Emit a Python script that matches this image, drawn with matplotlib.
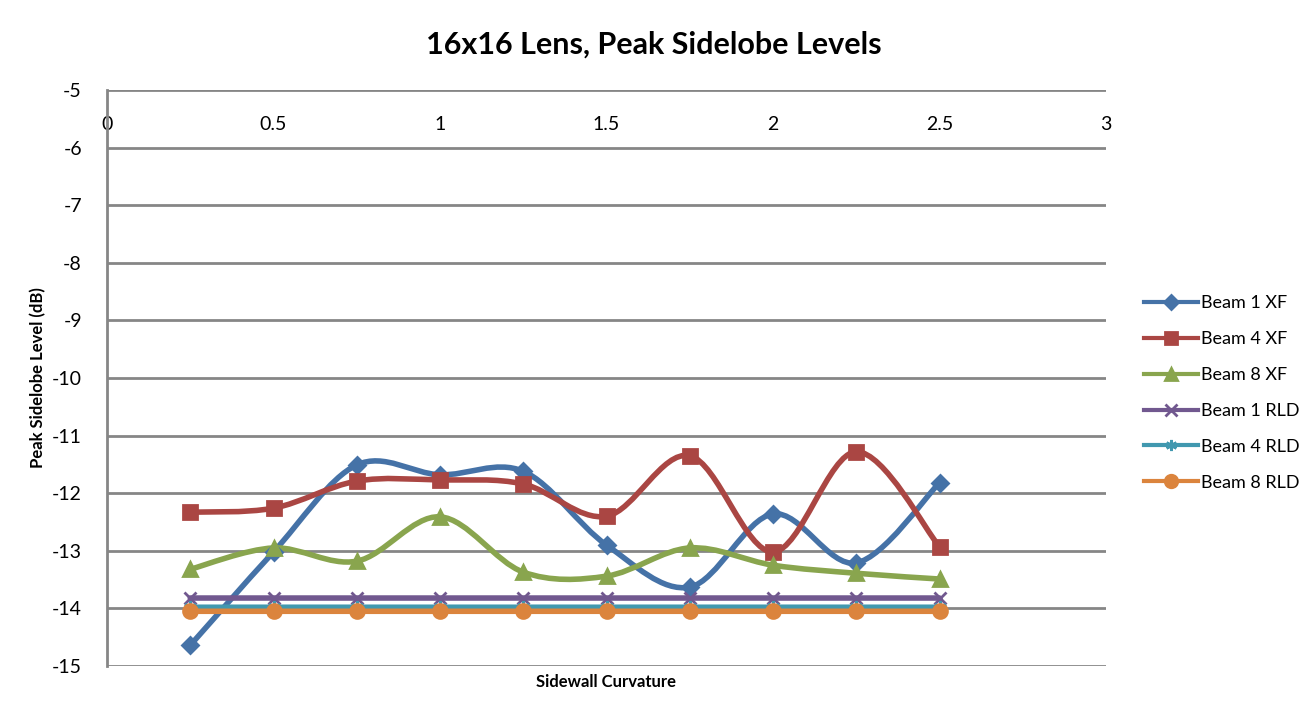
import numpy as np
import matplotlib
matplotlib.use("Agg")
import matplotlib.pyplot as plt
from matplotlib.path import Path
from matplotlib.patches import PathPatch
from matplotlib.lines import Line2D

plt.rcParams['font.family'] = ['Lato', 'DejaVu Sans']
plt.rcParams['axes.unicode_minus'] = False

curvature = [0.25, 0.5, 0.75, 1.0, 1.25, 1.5, 1.75, 2.0, 2.25, 2.5]
beam1_xf = [-14.64, -13.02, -11.51, -11.68, -11.62, -12.90, -13.63, -12.36, -13.21, -11.82]
beam4_xf = [-12.33, -12.26, -11.79, -11.77, -11.84, -12.40, -11.35, -13.02, -11.28, -12.93]
beam8_xf = [-13.32, -12.95, -13.18, -12.41, -13.37, -13.44, -12.95, -13.25, -13.39, -13.49]
beam1_rld = [-13.82] * 10
beam4_rld = [-13.98] * 10
beam8_rld = [-14.05] * 10

series = [
    ("Beam 1 XF", beam1_xf, "#4572A7", "D", 8),
    ("Beam 4 XF", beam4_xf, "#AA4643", "s", 10),
    ("Beam 8 XF", beam8_xf, "#89A54E", "^", 10),
    ("Beam 1 RLD", beam1_rld, "#71588F", "x", 9),
    ("Beam 4 RLD", beam4_rld, "#4198AF", (6, 2, 0), 9),
    ("Beam 8 RLD", beam8_rld, "#DB843D", "o", 10),
]


def smooth_path(xs, ys):
    # excel style smoothing: bezier segments with catmull-rom control points
    pts = np.column_stack([xs, ys])
    n = len(pts)
    verts = [pts[0]]
    codes = [Path.MOVETO]
    for i in range(n - 1):
        p0 = pts[i - 1] if i > 0 else pts[i]
        p1 = pts[i]
        p2 = pts[i + 1]
        p3 = pts[i + 2] if i + 2 < n else pts[i + 1]
        c1 = p1 + (p2 - p0) / 6.0
        c2 = p2 - (p3 - p1) / 6.0
        verts += [c1, c2, p2]
        codes += [Path.CURVE4] * 3
    return Path(verts, codes)


fig = plt.figure(figsize=(13.08, 7.14), dpi=100)
ax = fig.add_axes([107 / 1308, 48 / 714, 999 / 1308, 576 / 714])

handles = []
for name, vals, col, mk, ms in series:
    ax.add_patch(PathPatch(smooth_path(curvature, vals), fill=False,
                           edgecolor=col, lw=4, zorder=3, capstyle='round'))
    ax.plot(curvature, vals, ls='none', marker=mk, ms=ms, color=col,
            mec=col, mew=2, zorder=4)
    handles.append(Line2D([0], [0], color=col, lw=3, marker=mk, ms=ms - 1,
                          mec=col, mew=2, label=name))

ax.set_xlim(0, 3)
ax.set_ylim(-15, -5)
ax.set_yticks(np.arange(-15, -4, 1))
ax.set_xticks(np.arange(0, 3.01, 0.5))
ax.set_xticklabels(["0", "0.5", "1", "1.5", "2", "2.5", "3"])
ax.grid(axis='y', color='#868686', lw=2)
ax.set_axisbelow(True)
for s in ['right', 'bottom', 'top']:
    ax.spines[s].set_visible(False)
ax.spines['left'].set_color('#868686')
ax.spines['left'].set_linewidth(2)
ax.tick_params(axis='y', length=0, labelsize=14, pad=18)
ax.tick_params(axis='x', length=0, labelsize=14, top=True, labeltop=True,
               bottom=False, labelbottom=False, pad=-31)

ax.set_ylabel("Peak Sidelobe Level (dB)", fontsize=12, fontweight='bold', labelpad=4)
fig.text(606 / 1308, 1 - 682 / 714, "Sidewall Curvature", fontsize=12,
         fontweight='bold', ha='center', va='center')
fig.text(654 / 1308, 1 - 45 / 714, "16x16 Lens, Peak Sidelobe Levels",
         fontsize=22, fontweight='bold', ha='center', va='center')

fig.legend(handles=handles, loc='center left', bbox_to_anchor=(1128 / 1308, 1 - 393 / 714),
           frameon=False, fontsize=13, handlelength=3, labelspacing=1.1,
           handletextpad=0.15)

fig.savefig("out.png", dpi=100)
